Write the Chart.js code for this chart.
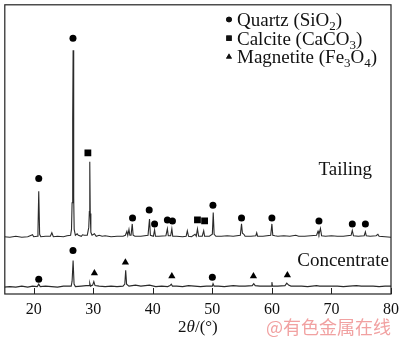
<!DOCTYPE html>
<html>
<head>
<meta charset="utf-8">
<script src="https://cdn.jsdelivr.net/npm/chart.js@4/dist/chart.umd.min.js"></script>
<style>
html,body{margin:0;padding:0;background:#fff;}
#wrap{width:400px;height:338px;}
</style>
</head>
<body>
<div id="wrap"><canvas id="c" width="400" height="338"></canvas></div>
<script>
// ---- data ----
const xTickValues = [20, 30, 40, 50, 60, 70, 80];

// Tailing diffractogram: 2θ and intensity above its own baseline
const tailAngle = [15.0,16.0,17.0,18.0,19.0,19.6,19.8,20.0,20.6,20.72,20.85,21.0,21.2,22.0,22.8,23.05,23.3,24.0,25.0,25.6,26.2,26.35,26.45,26.55,26.62,26.72,26.8,27.0,27.3,27.5,28.0,28.2,28.5,29.0,29.25,29.35,29.42,29.5,29.6,29.8,30.2,30.5,31.0,31.5,32.0,33.0,34.0,35.0,35.4,35.65,35.8,36.0,36.15,36.35,36.55,36.7,37.0,38.0,39.2,39.45,39.6,40.1,40.3,40.45,41.0,42.2,42.45,42.6,43.0,43.2,43.35,44.0,45.0,45.6,45.8,46.0,46.5,47.1,47.3,47.5,47.7,48.3,48.55,48.7,49.5,50.0,50.15,50.3,50.6,51.5,52.5,53.5,54.7,54.9,55.05,55.3,55.5,56.5,57.3,57.45,57.6,58.5,59.8,60.0,60.15,60.5,61.0,62.0,63.0,64.0,64.5,65.5,66.5,67.5,67.75,67.9,68.15,68.35,69.0,70.0,71.0,72.0,73.3,73.5,73.7,74.5,75.5,75.7,75.85,76.5,77.5,77.8,78.0,79.0,80.0];
const tailInt   = [0.5,0,1,0,0.5,2,2.5,0.5,1,6,46.5,3,0.5,1,1,4.5,0.5,1,0.5,1.5,2,8,35,120,189.5,40,8,2,3.5,2,1,2.5,2,2,10,26,76.5,24,5,2,3.5,1,2,1,1.5,0.5,1,1,2,6,2,8,2,2,13.5,2,1,1,2,18.5,2,1,7.5,1,1,1.5,8.5,1.5,1.5,8.5,1,1,0.5,1,6.5,1,0.5,3,1,8.5,1,1,6.5,1,1,3,25,3,1,1,1.5,1,2,13.5,4,3,1,1,1.5,4.5,1,1,2,13.5,2,1.5,1,1.5,1,2,1,1,1.5,2,6,3,9,1.5,1,1.5,1,1,2,7,1.5,1,1.5,5.5,1.5,1,1.5,3,1,0.5,0];

// Concentrate diffractogram
const concAngle = [15,16,17,18,19,19.8,20.6,20.85,21.1,22,23,24,25,26.3,26.45,26.62,26.78,27,28,28.8,29.3,29.42,29.55,29.9,30.1,30.3,31,32,33,34,35,35.3,35.45,35.6,36,37.1,38,39.45,40.5,41.5,42.5,42.9,43.1,43.3,44,45,46,47,48,49,50.0,50.12,50.3,51,52,53.5,54.5,55.5,56.7,56.95,57.2,58,59,59.9,60.0,60.1,61,62.2,62.5,62.8,63.2,64,65,66,67.5,68,69,70,71,72,73,74.2,75,76,77,78,79,80];
const concInt   = [0,0.5,0,1,0,1,0.5,3,0.5,1,0.5,0,1,1,6,27,3,0.5,1,1.5,1.5,4,1,2,5.5,1.5,1,0.5,1,0.5,1,3,17,3,1,2,1,2,0.5,1,0.5,1.5,3,1,1,0.5,1.5,1,0.5,1,1,3.5,1,1,0.5,1.5,1,1,1.5,3.5,1.5,1,1,1,5,1,1,1.5,4,2,1,1,1,0.5,1.5,1,1,1,1,0.5,1,1.5,1,1,1,0.5,1,1];

// Phase markers: 2θ of the marked peak and the marker height on the plot's scale
const tailQuartzAngle = [20.85,26.6,36.6,39.4,40.3,42.45,43.3,50.1,54.9,60.0,67.9,73.5,75.7];
const tailQuartzLevel = [117,259,77,85,71,75,74,90,77,77,74,71,71];
const tailCalciteAngle = [29.1,47.5,48.7];
const tailCalciteLevel = [143,75,74];
const concQuartzAngle = [20.85,26.6,50.0];
const concQuartzLevel = [15,44,17];
const concMagnetiteAngle = [30.2,35.4,43.2,56.9,62.6];
const concMagnetiteLevel = [21,32,18,18,19];

const tailBase = 57.5;   // vertical offset of the Tailing trace
const concBase = 7;      // vertical offset of the Concentrate trace

// ---- build ----
const pts = (xs, ys, off) => xs.map((x, i) => ({x: x, y: ys[i] + (off || 0)}));
const serif = "'Liberation Serif','Times New Roman',serif";

const decor = {
  id: 'decor',
  afterDraw(chart) {
    const {ctx, chartArea: a, scales: {x}} = chart;
    ctx.save();
    ctx.strokeStyle = '#222';
    ctx.lineWidth = 1.2;
    ctx.strokeRect(a.left, a.top, a.right - a.left, a.bottom - a.top);
    ctx.lineWidth = 1;
    xTickValues.forEach(v => {
      const px = Math.round(x.getPixelForValue(v)) + 0.5;
      ctx.beginPath(); ctx.moveTo(px, a.bottom); ctx.lineTo(px, a.bottom - 6); ctx.stroke();
    });
    ctx.fillStyle = '#111';
    ctx.textBaseline = 'alphabetic';
    // axis title 2θ/(°)
    const parts = [['2', 'normal'], ['θ', 'italic'], ['/(°)', 'normal']];
    let tw = 0;
    parts.forEach(p => { ctx.font = p[1] + ' 17px ' + serif; tw += ctx.measureText(p[0]).width; });
    let tx = (a.left + a.right) / 2 - tw / 2;
    parts.forEach(p => { ctx.font = p[1] + ' 17px ' + serif; ctx.fillText(p[0], tx, 332); tx += ctx.measureText(p[0]).width; });
    // legend
    const leg = [
      {style: 'circle', r: 2.8, parts: [['Quartz (SiO', 0], ['2', 1], [')', 0]]},
      {style: 'rect', r: 3.8, parts: [['Calcite (CaCO', 0], ['3', 1], [')', 0]]},
      {style: 'triangle', r: 3.4, parts: [['Magnetite (Fe', 0], ['3', 1], ['O', 0], ['4', 1], [')', 0]]}
    ];
    leg.forEach((it, i) => {
      const by = 26 + i * 18.7;
      Chart.helpers.drawPoint(ctx, {pointStyle: it.style, radius: it.r, borderWidth: 0}, 229, by - 6.5);
      ctx.fill();
      let lx = 237;
      it.parts.forEach(p => {
        ctx.font = (p[1] ? '13px ' : '19px ') + serif;
        ctx.fillText(p[0], lx, by + (p[1] ? 4 : 0));
        lx += ctx.measureText(p[0]).width;
      });
    });
    // trace labels
    ctx.font = '19px ' + serif;
    ctx.textAlign = 'right';
    ctx.fillText('Tailing', 372, 175);
    ctx.fillText('Concentrate', 389, 266);
    // watermark
    ctx.font = "18px 'Noto Sans CJK SC', sans-serif";
    ctx.fillStyle = 'rgba(236,130,130,0.75)';
    ctx.fillText('@有色金属在线', 391, 334);
    ctx.restore();
  }
};

const markerSet = (xs, ys, style, r) => ({
  data: pts(xs, ys), showLine: false, pointStyle: style, pointRadius: r,
  pointBackgroundColor: '#000', pointBorderColor: '#000', pointBorderWidth: 0
});

new Chart(document.getElementById('c'), {
  type: 'scatter',
  data: {
    datasets: [
      {data: pts(tailAngle, tailInt, tailBase), showLine: true, borderColor: '#2a2a2a', borderWidth: 1.1, pointRadius: 0, tension: 0},
      {data: pts(concAngle, concInt, concBase), showLine: true, borderColor: '#2a2a2a', borderWidth: 1.1, pointRadius: 0, tension: 0},
      markerSet(tailQuartzAngle, tailQuartzLevel, 'circle', 3.5),
      markerSet(tailCalciteAngle, tailCalciteLevel, 'rect', 4.8),
      markerSet(concQuartzAngle, concQuartzLevel, 'circle', 3.5),
      markerSet(concMagnetiteAngle, concMagnetiteLevel, 'triangle', 4.2)
    ]
  },
  options: {
    responsive: false,
    animation: false,
    events: [],
    layout: {padding: {left: 2, right: 9, top: 1, bottom: 0}},
    plugins: {legend: {display: false}, tooltip: {enabled: false}},
    scales: {
      x: {
        type: 'linear', min: 15.15, max: 80,
        afterBuildTicks: s => { s.ticks = xTickValues.map(v => ({value: v})); },
        afterFit: s => { s.height = 44; s.paddingLeft = 0; s.paddingRight = 0; },
        grid: {display: false, drawTicks: false},
        border: {display: false},
        ticks: {font: {family: serif, size: 16}, color: '#111', padding: 6, maxRotation: 0, autoSkip: false}
      },
      y: {type: 'linear', min: 0, max: 293, display: false}
    }
  },
  plugins: [decor]
});
</script>
</body>
</html>
